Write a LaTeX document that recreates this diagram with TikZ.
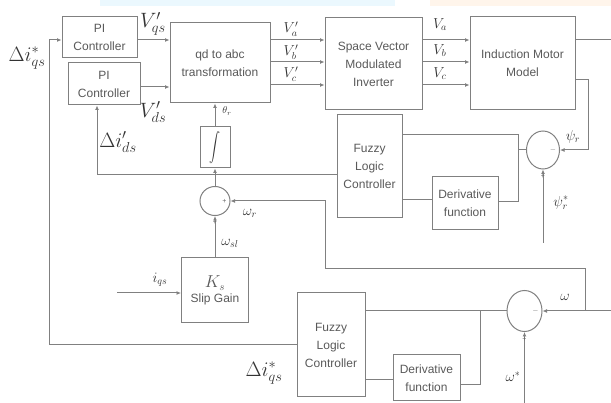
\documentclass[tikz,border=0pt]{standalone}
\usepackage{graphicx}
\usepackage{fontspec}
\setsansfont{Liberation Sans}
\usetikzlibrary{arrows.meta,shapes.geometric}
\begin{document}
\begin{tikzpicture}[x=1pt,y=-1pt,
  ln/.style={draw=black!50, line width=1pt},
  arr/.style={ln,-{Latex[length=4.5pt,width=4pt]}},
  blk/.style={draw=black!50, line width=1pt, rectangle, inner sep=0pt, align=center,
    font=\sffamily\fontsize{12}{18}\selectfont, text=black!65},
  sumj/.style={draw=black!50, line width=1pt, ellipse, inner sep=0pt},
  lbl/.style={text=black!80, inner sep=0pt},
  big/.style={lbl, font=\fontsize{20}{20}\selectfont},
  mid/.style={lbl, font=\fontsize{14}{14}\selectfont},
  sgn/.style={lbl, text=black!60, font=\sffamily\fontsize{7}{7}\selectfont},
]
\useasboundingbox (0,0) rectangle (611,403);
\fill[cyan!8] (100,0) rectangle (395,6);
\fill[orange!8] (430,0) rectangle (611,6);

% blocks
\node[blk, minimum width=75pt, minimum height=41pt] (pi1) at (99.5,37.5) {PI\\Controller};
\node[blk, minimum width=72pt, minimum height=42pt] (pi2) at (104,84) {PI\\Controller};
\node[blk, minimum width=100pt, minimum height=80pt] (qd) at (220,63) {qd to abc\\transformation};
\node[blk, minimum width=97pt, minimum height=92pt] (svm) at (373.5,64) {Space Vector\\Modulated\\Inverter};
\node[blk, minimum width=105pt, minimum height=93pt] (im) at (522.5,63.5) {Induction Motor\\Model};
\node[blk, minimum width=65pt, minimum height=103pt] (flc1) at (369.5,166.5) {Fuzzy\\Logic\\Controller};
\node[blk, minimum width=66pt, minimum height=53pt] (der1) at (465,203.5) {Derivative\\function};
\node[blk, minimum width=30pt, minimum height=41pt, text=black!80] (int) at (215,147.5) {\scalebox{1.1}[1.45]{$\displaystyle\int$}};
\node[sumj, minimum width=30pt, minimum height=29pt] (s1) at (215,201) {};
\node[blk, minimum width=67pt, minimum height=65pt] (slip) at (215,290.5) {{\rmfamily\itshape\fontsize{16}{16}\selectfont $K_s$}\\[-3pt]Slip Gain};
\node[sumj, minimum width=33pt, minimum height=38pt] (s3) at (543,150) {};
\node[blk, minimum width=68pt, minimum height=104pt] (flc2) at (331,345) {Fuzzy\\Logic\\Controller};
\node[blk, minimum width=67pt, minimum height=46pt] (der2) at (426.5,378) {Derivative\\function};
\node[sumj, minimum width=35pt, minimum height=41pt] (s2) at (524.5,311) {};

% free ends
\coordinate (iqs) at (117,293);
\coordinate (wout) at (611,311);
\coordinate (wbr) at (585,311);
\coordinate (wref) at (524.5,403);
\coordinate (psiref) at (543,243);
\coordinate (psiout) at (611,40);
\coordinate (e2br) at (480,311);
\coordinate (e1br) at (518,150);

% connectors
\draw[arr] (flc2.west) -| (49,40) -- (pi1.west |- 0,40);
\draw[arr] (pi1.east |- 0,40) -- (qd.west |- 0,40);
\draw[arr] (pi2.east |- 0,87) -- (qd.west |- 0,87);
\draw[arr] (flc1.west |- 0,175) -| (pi2.south -| 97,0);
\foreach \yy in {40,62,85} {
  \draw[arr] (qd.east |- 0,\yy) -- (svm.west |- 0,\yy);
  \draw[arr] (svm.east |- 0,\yy) -- (im.west |- 0,\yy);
}
\draw[ln] (im.east |- psiout) -- (psiout);
\draw[arr] (im.east |- 0,80) -| (588,150) -- (s3.east);
\draw[ln] (flc1.east |- 0,135) -| (518,202) -- (der1.east |- 0,202);
\draw[ln] (s3.west) -- (e1br);
\draw[ln] (der1.west |- 0,200) -- (flc1.east |- 0,200);
\draw[arr] (psiref) -- (s3.south);
\draw[arr] (int.north) -- (int.north |- qd.south);
\draw[arr] (s1.north) -- (int.south);
\draw[arr] (slip.north) -- (s1.south);
\draw[arr] (iqs) -- (slip.west |- iqs);
\draw[arr] (wbr) |- (325,269) |- (s1.east);
\draw[arr] (wout) -- (s2.east);
\draw[arr] (wref) -- (s2.south);
\draw[ln] (s2.west) -- (flc2.east |- s2.west);
\draw[ln] (e2br) |- (der2.east |- 0,385);
\draw[ln] (der2.west |- 0,380) -- (flc2.east |- 0,380);

% signs
\node[sgn] at ([xshift=-6pt]s1.east) {+};
\node[sgn] at ([yshift=-6pt]s1.south) {+};
\node[sgn] at ([xshift=-7pt]s3.east) {$-$};
\node[sgn] at ([yshift=-7pt]s3.south) {+};
\node[sgn] at ([xshift=-7pt]s2.east) {$-$};
\node[sgn] at ([yshift=-7pt]s2.south) {+};

% labels
\node[big] at (27,58) {$\Delta i^{*}_{qs}$};
\node[big] at (153,24) {$V'_{qs}$};
\node[big] at (153,112) {$V'_{ds}$};
\node[big] at (118,142) {$\Delta i'_{ds}$};
\node[big] at (264,373) {$\Delta i^{*}_{qs}$};
\node[lbl, font=\fontsize{10}{10}\selectfont] at (227,111) {$\theta_r$};
\node[mid] at (291,29) {$V'_a$};
\node[mid] at (291,52) {$V'_b$};
\node[mid] at (291,74) {$V'_c$};
\node[mid] at (440,25) {$V_a$};
\node[mid] at (440,51) {$V_b$};
\node[mid] at (440,74) {$V_c$};
\node[mid] at (573,137) {$\psi_r$};
\node[mid] at (561,203) {$\psi^{*}_r$};
\node[mid] at (250,213) {$\omega_r$};
\node[mid] at (230,243) {$\omega_{sl}$};
\node[mid] at (160,280) {$i_{qs}$};
\node[mid] at (565,297) {$\omega$};
\node[mid] at (513,377) {$\omega^{*}$};
\end{tikzpicture}
\end{document}
